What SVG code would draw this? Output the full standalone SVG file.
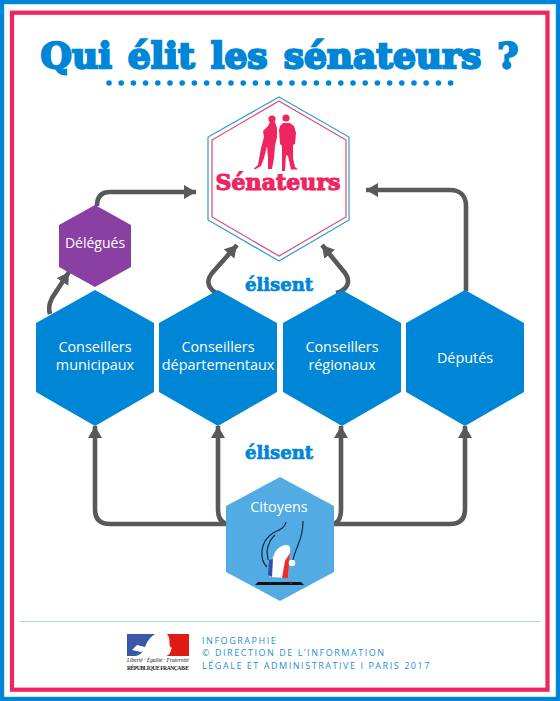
<svg xmlns="http://www.w3.org/2000/svg" width="560" height="701" viewBox="0 0 560 701">
<defs>
<marker id="a" markerUnits="userSpaceOnUse" markerWidth="14" markerHeight="16" refX="12" refY="8" orient="auto"><path d="M0 1 L12 8 L0 15 Z" fill="#58595b"/></marker>
</defs>
<style>
.c{fill:none;stroke:#58595b;stroke-width:4.6;stroke-linecap:butt}
.t{font-family:"Open Sans",sans-serif;font-size:14.4px;font-weight:500;fill:#fff;text-anchor:middle}
.d{font-family:"DejaVu Serif",serif;font-weight:700;text-anchor:middle}
.h{fill:#0086d6}
.f{font-family:"Open Sans",sans-serif;font-size:9px;fill:#1f8fd6;letter-spacing:1.55px}
.m{font-family:"Liberation Serif",serif;fill:#222;text-anchor:middle}
.r{fill:none;stroke:#0f2c4a;stroke-width:1.2}
</style>
<rect width="560" height="701" fill="#fff"/>
<rect x="2" y="2" width="556" height="697" fill="none" stroke="#0086d6" stroke-width="4.4"/>
<rect x="12" y="12.7" width="535.5" height="677" fill="none" stroke="#ee2560" stroke-width="4.2"/>
<g id="title">
<text class="d" x="279.5" y="68" font-size="36" fill="#0086d6" stroke="#0086d6" stroke-width="2.3" word-spacing="3.5">Qui élit les sénateurs ?</text>
<path d="M109 83H451.5" fill="none" stroke="#0086d6" stroke-width="5.6" stroke-linecap="round" stroke-dasharray="0 12.2"/>
</g>
<g id="connectors">
<path class="c" marker-end="url(#a)" d="M97 206C97 197 101 192 110 192H196"/>
<path class="c" marker-end="url(#a)" d="M50 314C48 308 49 304 52 298L69 272"/>
<path class="c" marker-end="url(#a)" d="M216 293C207 287 206 280 213 272L237 245"/>
<path class="c" marker-end="url(#a)" d="M336 293C348 290 351 281 345 273L322 245"/>
<path class="c" marker-end="url(#a)" d="M466 291V206C466 196 460 190 450 190H366"/>
<path class="c" marker-end="url(#a)" d="M230 524H110C100 524 95 519 95 509V426"/>
<path class="c" marker-end="url(#a)" d="M230 524C222 524 218 519 218 509V426"/>
<path class="c" marker-end="url(#a)" d="M330 524H450C460 524 465 519 465 509V426"/>
<path class="c" marker-end="url(#a)" d="M330 524C338 524 341 519 341 509V426"/>
</g>
<g id="senateurs">
<path d="M279 97L349 137V220L279 261L208 220V137Z" fill="#fff" stroke="#2a9fd0" stroke-width="1.2"/>
<path d="M279 101L346 140V217L279 256L212 217V140Z" fill="#fff" stroke="#e2457c" stroke-width="1.2"/>
<circle cx="272" cy="119" r="3.6" fill="#ee2560"/>
<path d="M270 122L275 122L277 128L277 137L275 146L274 158L272 169L268 169L268 158L267 146L264 158L261 166L255 169.5L254 168.5L258 165L261 148L264 137L263 131L268 126Z" fill="#ee2560"/>
<circle cx="286" cy="118" r="3.6" fill="#ee2560"/>
<path d="M283 123L290 123L294 126L296 133L295 144L293 145L293 158L295 167L298 169.5L291 169.5L288 156L286 155L285 171L282 171L282 146L280 144L279 130L280 126Z" fill="#ee2560"/>
<text class="d" x="278" y="190" font-size="22" fill="#ee2560" stroke="#ee2560" stroke-width="1.1" textLength="125" lengthAdjust="spacing">Sénateurs</text>
</g>
<g id="delegues">
<path d="M95 205L131 225V267L95 287L59 267V225Z" fill="#8a3fa3"/>
<text class="t" x="95" y="248" style="font-size:14px">Délégués</text>
</g>
<g id="municipaux">
<path class="h" d="M95 290L154 323V392L95 426L36 392V323Z"/>
<text class="t" x="95" y="352">Conseillers</text><text class="t" x="95" y="370">municipaux</text>
</g>
<g id="departementaux">
<path class="h" d="M218 290L277 323V392L218 426L159 392V323Z"/>
<text class="t" x="218" y="352">Conseillers</text><text class="t" x="218" y="370">départementaux</text>
</g>
<g id="regionaux">
<path class="h" d="M342 290L401 323V392L342 426L283 392V323Z"/>
<text class="t" x="342" y="352">Conseillers</text><text class="t" x="342" y="370">régionaux</text>
</g>
<g id="deputes">
<path class="h" d="M465 290L524 323V392L465 426L406 392V323Z"/>
<text class="t" x="465" y="363">Députés</text>
</g>
<g id="citoyens">
<path d="M280 477L334 506V572L280 601L226 572V506Z" fill="#52ace3"/>
<text class="t" x="279" y="512">Citoyens</text>
<path d="M275 552C278 548 282 545 286 545C289 545 291 547 290 551L288 578L270 577L272 560Z" fill="#fff"/>
<path d="M269 560L273 559L272 577L268 575Z" fill="#2d4fa8"/>
<path d="M285 561L290 553L288 578L282 578Z" fill="#ee2b2b"/>
<path class="r" d="M286 522C285 528 279 530 273 533C267 537 263 543 262 550C261 558 263 563 267 567M275 535C270 539 268 545 267 551L268 560M303 521C303 530 301 538 298 545C296 550 294 555 293 560"/>
<circle cx="292" cy="563" r="3.3" fill="#fff"/>
<path d="M258 582L255 585H304L301 582Z" fill="#111"/>
<path d="M291 581V584" stroke="#ee2b2b"/>
</g>
<g id="elisent">
<text class="d" x="279" y="291" font-size="18" fill="#0086d6" stroke="#0086d6" stroke-width=".7">élisent</text>
<text class="d" x="279" y="459" font-size="18" fill="#0086d6" stroke="#0086d6" stroke-width=".7">élisent</text>
</g>
<g id="footer">
<path d="M20 621.5H540" stroke="#b4cfe9" stroke-width="1"/>
<path d="M127 634H155C149 638 147 642 145 647L137 645L132 650L141 652L143 651C141 654 139 655 136 656H127Z" fill="#3a58a8"/>
<path d="M167 634H189V656H166C172 654 170 650 172 648C167 646 172 640 167 634Z" fill="#e01a16"/>
<text class="m" x="158" y="662" font-size="5.6" font-style="italic" textLength="62" lengthAdjust="spacing">Liberté · Égalité · Fraternité</text>
<text class="m" x="158" y="670" font-size="5.6" font-weight="700" textLength="62" lengthAdjust="spacing">RÉPUBLIQUE FRANÇAISE</text>
<text class="f" x="202" y="643.5">INFOGRAPHIE</text>
<text class="f" x="202" y="656">© DIRECTION DE L’INFORMATION</text>
<text class="f" x="202" y="669">LÉGALE ET ADMINISTRATIVE I PARIS 2017</text>
</g>
</svg>
